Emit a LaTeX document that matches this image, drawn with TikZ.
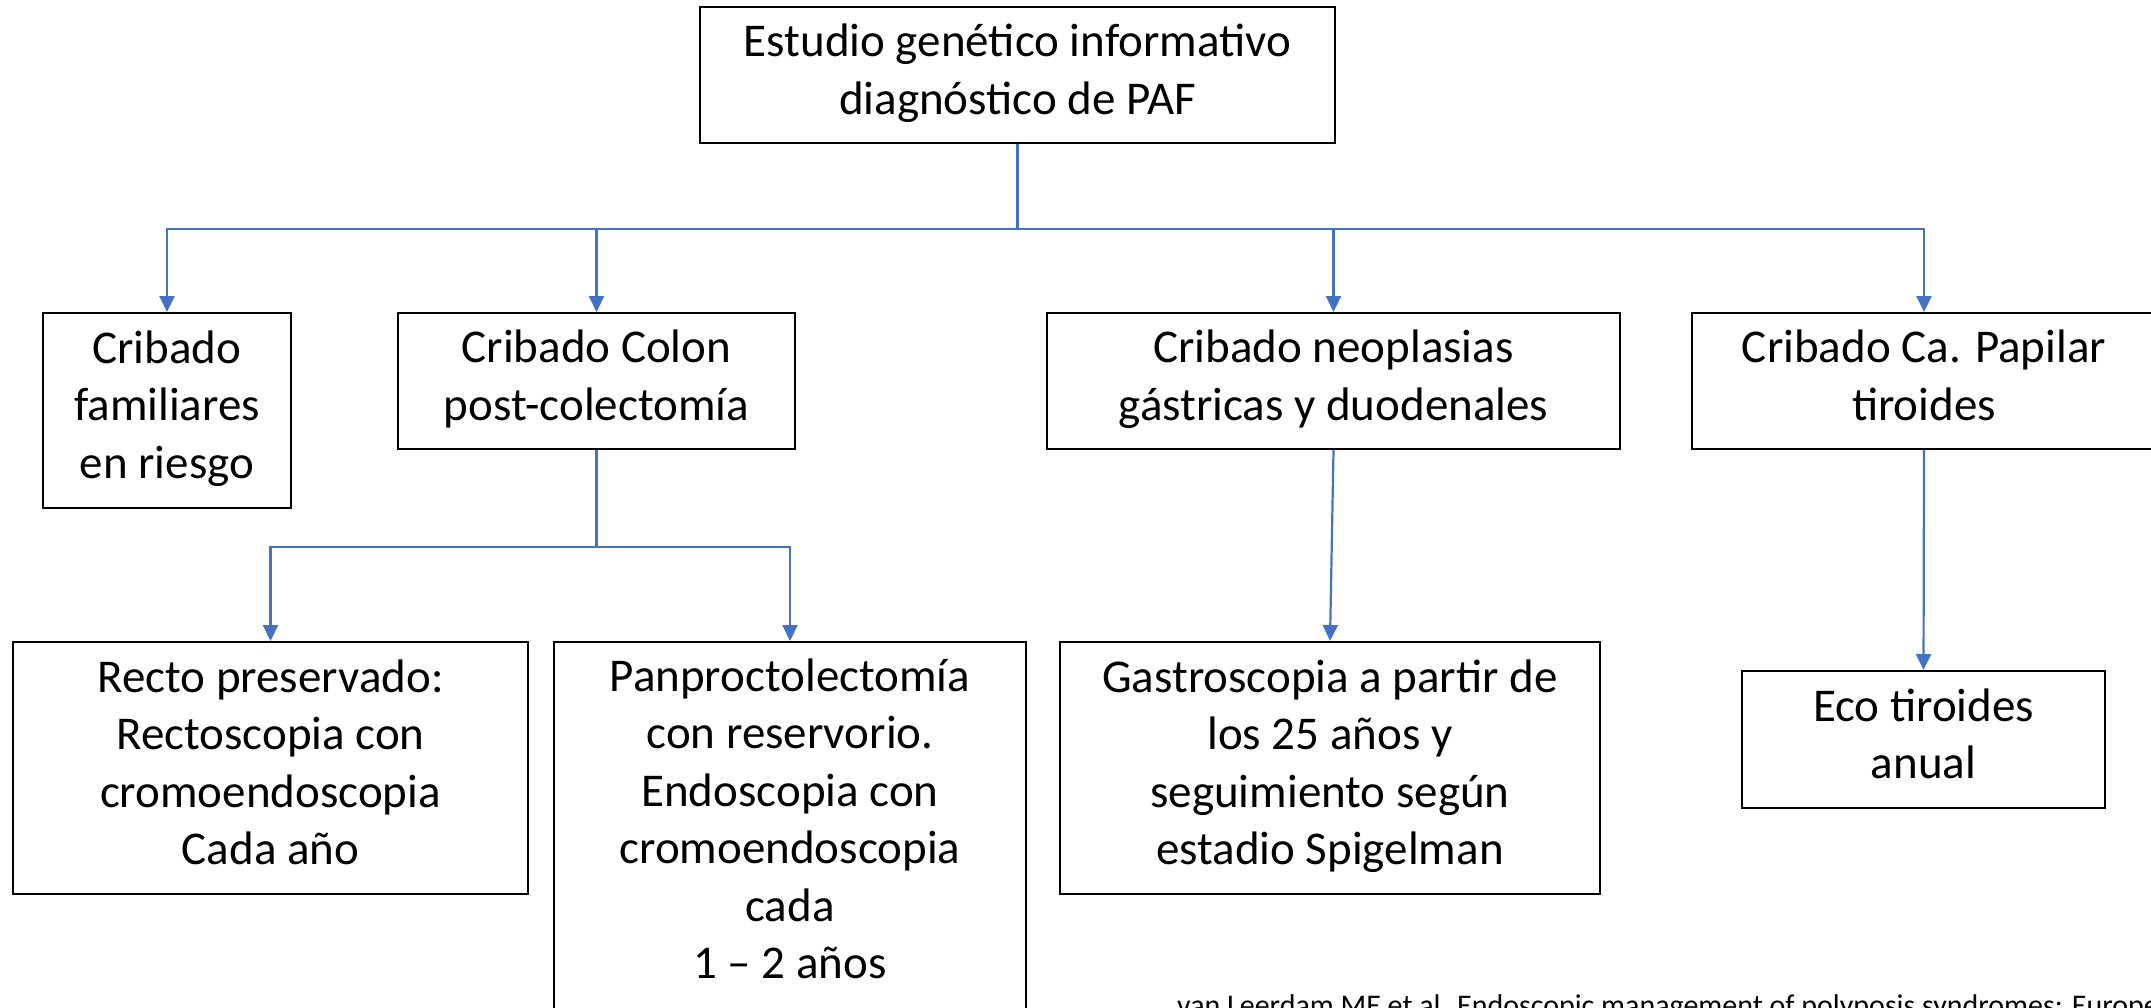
\documentclass[tikz,border=0pt]{standalone}
\usepackage{fontspec}
\setmainfont{Carlito}
\usetikzlibrary{arrows.meta}
\definecolor{conblue}{HTML}{4472C4}
\begin{document}
\begin{tikzpicture}[x=1pt,y=-1pt,
  box/.style={draw=black, line width=2pt, rectangle, inner sep=0pt, align=center,
    font=\fontsize{47}{57.5}\selectfont,
    execute at begin node={\rule{0pt}{43pt}},
    execute at end node={\rule[-12pt]{0pt}{12pt}}},
  tallbox/.style={draw=black, line width=2pt, rectangle, inner sep=0pt, align=center,
    font=\fontsize{47}{57.5}\selectfont,
    execute at begin node={\rule{0pt}{43pt}},
    execute at end node={\rule[-21pt]{0pt}{21pt}}},
  arr/.style={draw=conblue, line width=2.2pt, -{Triangle[length=16pt,width=15pt]}},
  citestyle/.style={anchor=base west, inner sep=0pt, font=\fontsize{30}{36}\selectfont}
]
\useasboundingbox (0,0) rectangle (2151,1008);
\clip (0,0) rectangle (2151,1008);
\fill[white] (0,0) rectangle (2151,1008);

\node[box, minimum width=635pt, minimum height=136pt] (top) at (1017.5,75) {Estudio genético informativo\\diagnóstico de PAF};

\node[box, minimum width=248pt, minimum height=195pt] (b1) at (167,410.5) {Cribado\\familiares\\en riesgo};
\node[box, minimum width=397pt, minimum height=136pt] (b2) at (596.5,381) {Cribado Colon\\post-colectomía};
\node[box, minimum width=573pt, minimum height=136pt] (b3) at (1333.5,381) {Cribado neoplasias\\gástricas y duodenales};
\node[box, minimum width=464pt, minimum height=136pt] (b4) at (1924,381) {Cribado Ca. Papilar\\tiroides};

\node[box, minimum width=515pt, minimum height=252pt] (recto) at (270.5,768) {Recto preservado:\\Rectoscopia con\\cromoendoscopia\\Cada año};
\node[tallbox, minimum width=472pt, minimum height=374pt] (panpro) at (790,829) {Panproctolectomía\\con reservorio.\\Endoscopia con\\cromoendoscopia\\cada\\1 – 2 años};
\node[box, minimum width=540pt, minimum height=252pt] (gastro) at (1330,768) {Gastroscopia a partir de\\los 25 años y\\seguimiento según\\estadio Spigelman};
\node[box, minimum width=363pt, minimum height=137pt] (eco) at (1923.5,739.5) {Eco tiroides\\anual};

\node[citestyle] (cite) at (1177,1015) {van Leerdam ME et al. Endoscopic management of polyposis syndromes: European Society of Gastrointestinal Endoscopy};

\draw[arr] (top.south) -- ++(0,85) -| (b1.north);
\draw[arr] (top.south) -- ++(0,85) -| (b2.north);
\draw[arr] (top.south) -- ++(0,85) -| (b3.north);
\draw[arr] (top.south) -- ++(0,85) -| (b4.north);

\draw[arr] (b2.south) -- ++(0,97) -| (recto.north);
\draw[arr] (b2.south) -- ++(0,97) -| (panpro.north);
\draw[arr] (b3.south) -- (gastro.north);
\draw[arr] (b4.south) -- (eco.north);
\end{tikzpicture}
\end{document}
